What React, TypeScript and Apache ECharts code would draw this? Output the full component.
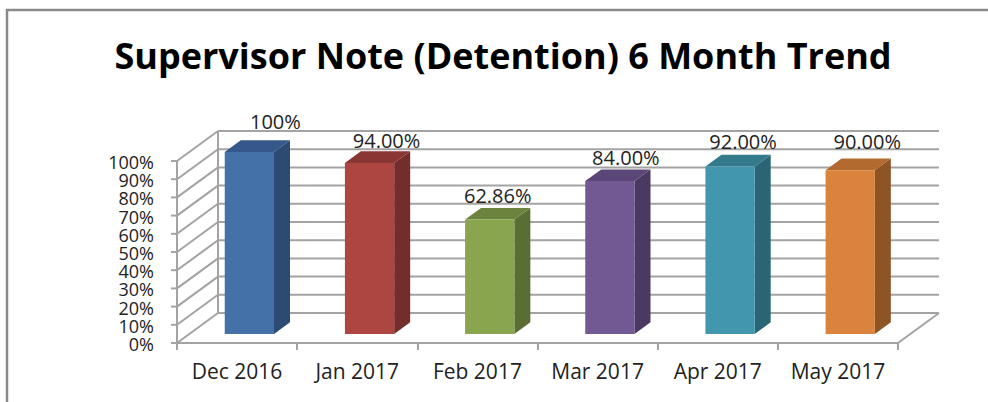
import React, { useEffect, useRef } from "react";
import * as echarts from "echarts";

const TITLE = "Supervisor Note (Detention) 6 Month Trend";
const categories = ["Dec 2016", "Jan 2017", "Feb 2017", "Mar 2017", "Apr 2017", "May 2017"];
const values = [100, 94.0, 62.86, 84.0, 92.0, 90.0];
const valueLabels = ["100%", "94.00%", "62.86%", "84.00%", "92.00%", "90.00%"];
const yTicks = [0, 10, 20, 30, 40, 50, 60, 70, 80, 90, 100];
const yTickLabels = ["0%", "10%", "20%", "30%", "40%", "50%", "60%", "70%", "80%", "90%", "100%"];

const frontColors = ["#4571A9", "#AD4541", "#89A64E", "#735994", "#4297AF", "#DA833C"];
const topColors = ["#35578A", "#8A3634", "#6C833D", "#5A4677", "#337A8D", "#B26A2E"];
const sideColors = ["#2D4A72", "#732D2A", "#5A6D32", "#4A3A62", "#296574", "#8F5425"];
// small per-label nudges (px) to follow the reference label placement
const labelNudgeX = [10, 1, -8, 0, -3, 1];
const labelNudgeY = [-7, 1, 0, 0, -1, -5];

const DEPTH_X = 41;
const DEPTH_Y = -30;
const FRONT_FRAC = 0.3;
const BACK_FRAC = 0.69;
const GRID_COLOR = "#A3A3A3";
const FONT = "'Open Sans', 'Noto Sans', sans-serif";

export default function App() {
  const ref = useRef<HTMLDivElement>(null);
  useEffect(() => {
    if (!ref.current) return;
    const chart = echarts.init(ref.current, undefined, { renderer: "svg" });

    const wallItem = (params: any, api: any) => {
      const v = api.value(0);
      const band = api.size([1, 0])[0];
      const p = api.coord([0, v]);
      const left = p[0] - band / 2;
      const right = left + band * categories.length;
      const y = p[1];
      const children: any[] = [];
      const ls = { stroke: GRID_COLOR, lineWidth: 2 };
      children.push({
        type: "line",
        shape: { x1: left, y1: y, x2: left + DEPTH_X, y2: y + DEPTH_Y },
        style: ls,
      });
      children.push({
        type: "line",
        shape: { x1: left + DEPTH_X, y1: y + DEPTH_Y, x2: right + DEPTH_X, y2: y + DEPTH_Y },
        style: ls,
      });
      children.push({
        type: "line",
        shape: { x1: left - 6, y1: y, x2: left, y2: y },
        style: ls,
      });
      children.push({
        type: "text",
        x: left - 23,
        y: y + 1,
        style: {
          text: yTickLabels[params.dataIndex],
          textAlign: "right",
          textVerticalAlign: "middle",
          fontFamily: FONT,
          fontSize: 18,
          lineHeight: 16,
          fill: "#222222",
        },
      });
      if (v === 0) {
        const top = api.coord([0, 100])[1];
        children.push({
          type: "line",
          shape: { x1: right, y1: y, x2: right + DEPTH_X, y2: y + DEPTH_Y },
          style: ls,
        });
        children.push({
          type: "line",
          shape: { x1: left + DEPTH_X, y1: y + DEPTH_Y, x2: left + DEPTH_X, y2: top + DEPTH_Y },
          style: ls,
        });
      }
      return { type: "group", children };
    };

    const barItem = (params: any, api: any) => {
      const i = api.value(0);
      const v = api.value(1);
      const band = api.size([1, 0])[0];
      const base = api.coord([i, 0]);
      const topP = api.coord([i, v]);
      const w = band * 0.41;
      const fdx = DEPTH_X * FRONT_FRAC;
      const fdy = DEPTH_Y * FRONT_FRAC;
      const sdx = DEPTH_X * (BACK_FRAC - FRONT_FRAC);
      const sdy = DEPTH_Y * (BACK_FRAC - FRONT_FRAC);
      const x0 = base[0] - w / 2 + fdx;
      const x1 = x0 + w;
      const yb = base[1] + fdy;
      const yt = topP[1] + fdy;
      const idx = params.dataIndex;
      const backTopY = yt + sdy;
      const backCx = (x0 + x1) / 2 + sdx;
      return {
        type: "group",
        children: [
          {
            type: "polygon",
            shape: { points: [[x1, yb], [x1, yt], [x1 + sdx, yt + sdy], [x1 + sdx, yb + sdy]] },
            style: { fill: sideColors[idx] },
          },
          {
            type: "polygon",
            shape: { points: [[x0, yt], [x1, yt], [x1 + sdx, yt + sdy], [x0 + sdx, yt + sdy]] },
            style: { fill: topColors[idx] },
          },
          {
            type: "rect",
            shape: { x: x0, y: yt, width: w, height: yb - yt },
            style: { fill: frontColors[idx] },
          },
          {
            type: "text",
            x: backCx + labelNudgeX[idx],
            y: backTopY - 12 + labelNudgeY[idx],
            style: {
              text: valueLabels[idx],
              textAlign: "center",
              textVerticalAlign: "middle",
              fontFamily: FONT,
              fontSize: 20,
              fill: "#222222",
            },
          },
        ],
      };
    };

    chart.setOption({
      animation: false,
      backgroundColor: "#ffffff",
      grid: { left: 177, right: 90, top: 161, bottom: 59 },
      graphic: [
        {
          type: "rect",
          shape: { x: 7, y: 10, width: 1000, height: 420 },
          style: { fill: "none", stroke: "#8A8A8A", lineWidth: 2.5 },
          silent: true,
        },
        {
          type: "text",
          x: 503,
          y: 55,
          style: {
            text: TITLE,
            textAlign: "center",
            textVerticalAlign: "middle",
            fontFamily: FONT,
            fontWeight: "bold",
            fontSize: 36,
            fill: "#000000",
          },
        },
      ],
      xAxis: {
        type: "category",
        data: categories,
        boundaryGap: true,
        axisLine: { show: true, lineStyle: { color: GRID_COLOR, width: 2 } },
        axisTick: { show: true, length: 7, alignWithLabel: false, lineStyle: { color: GRID_COLOR, width: 2 } },
        axisLabel: { color: "#222222", fontFamily: FONT, fontSize: 21, margin: 17, interval: 0 },
        splitLine: { show: false },
      },
      yAxis: {
        type: "value",
        min: 0,
        max: 100,
        interval: 10,
        axisLine: { show: true, lineStyle: { color: GRID_COLOR, width: 2 } },
        axisTick: { show: false },
        axisLabel: { show: false },
        splitLine: { show: false },
      },
      series: [
        {
          type: "custom",
          name: "walls",
          renderItem: wallItem,
          data: yTicks.map((t) => [t]),
          encode: { y: 0 },
          silent: true,
          clip: false,
          z: 1,
        },
        {
          type: "custom",
          name: "bars",
          renderItem: barItem,
          data: values.map((v, i) => [i, v]),
          encode: { x: 0, y: 1 },
          clip: false,
          z: 3,
        },
      ],
    });
    return () => chart.dispose();
  }, []);

  return (
    <div
      ref={ref}
      style={{ position: "fixed", left: 0, top: 0, width: 988, height: 402, background: "#fff" }}
    />
  );
}
